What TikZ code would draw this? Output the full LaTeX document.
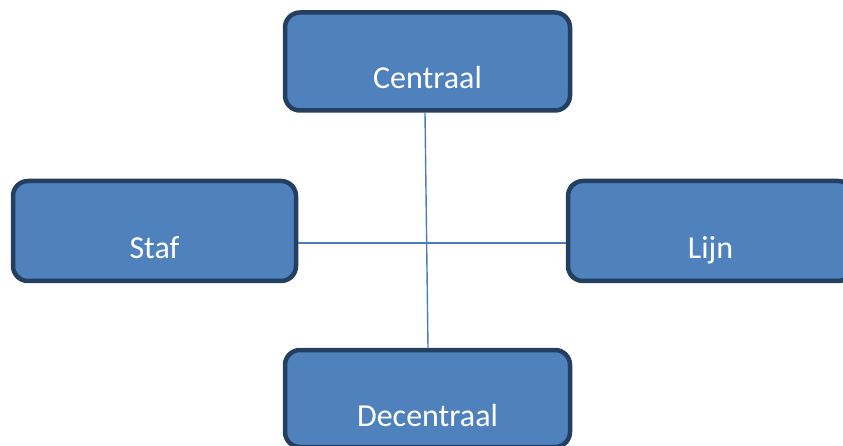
\documentclass[tikz,border=0pt]{standalone}
\usepackage{fontspec}
\setmainfont{Carlito}
\definecolor{boxfill}{HTML}{4F81BD}
\definecolor{boxline}{HTML}{243F60}
\definecolor{linkline}{HTML}{4A7EBB}
\begin{document}
\begin{tikzpicture}[x=1pt,y=-1pt,
  box/.style={draw=boxline, line width=4.5pt, fill=boxfill, rounded corners=15pt,
    rectangle, inner sep=0pt, minimum width=285pt, minimum height=98pt},
  boxtext/.style={text=white, font=\fontsize{32}{38}\selectfont, inner sep=0pt,
    text height=22pt, text depth=7pt, yshift=-20pt},
  link/.style={draw=linkline, line width=1.4pt}]
\useasboundingbox (0,0) rectangle (843,446);
\clip (0,0) rectangle (843,446);
\node[box, label={[boxtext]center:Centraal}] (c) at (427.5,61.5) {};
\node[box, minimum width=283pt, minimum height=100pt, label={[boxtext]center:Staf}] (s) at (154.5,231) {};
\node[box, minimum height=100pt, label={[boxtext]center:Lijn}] (l) at (710.5,231) {};
\node[box, minimum height=97pt, label={[boxtext]center:Decentraal}] (d) at (427.5,398.5) {};
\coordinate (ct) at (425,110);
\coordinate (db) at (428,350);
\draw[link] (c.south -| ct) -- (d.north -| db);
\draw[link] (s.east |- 0,243) -- (l.west |- 0,243);
\end{tikzpicture}
\end{document}
